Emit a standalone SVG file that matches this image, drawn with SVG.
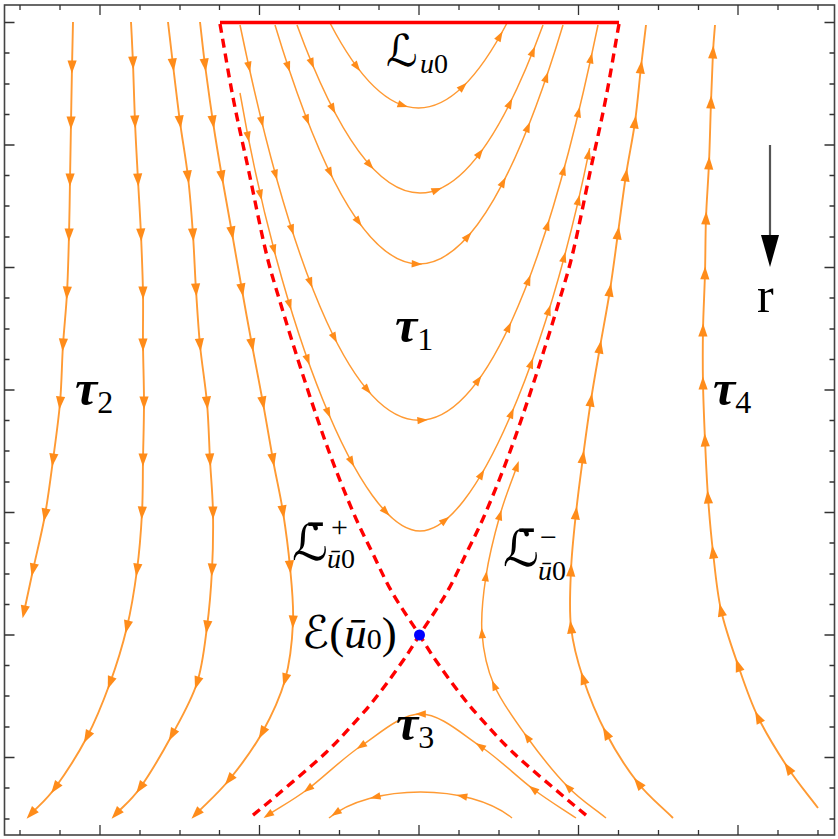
<svg xmlns="http://www.w3.org/2000/svg" width="838" height="839" viewBox="0 0 838 839">
<style>
.fl{fill:none;stroke:#ff9a33;stroke-width:1.9;stroke-linejoin:round}
.fl2{fill:none;stroke:#ff9a33;stroke-width:1.5;stroke-linejoin:round}
.ma{marker-mid:url(#ab);marker-end:url(#ab)}
.mm{marker-mid:url(#ab)}
.ms{marker-mid:url(#as);marker-end:url(#as)}
.ar line{stroke:none;fill:none;marker-end:url(#as)}
.sep{fill:none;stroke:#f00;stroke-width:3.4;stroke-dasharray:9 6}
.tk{fill:none;stroke:#333;stroke-width:1.3}
.lab{font-family:"Liberation Serif","DejaVu Serif",serif;fill:#000}
.cal{font-family:"DejaVu Serif","DejaVu Sans",serif}
.tau{font-style:italic;font-weight:bold}
.sub{font-style:normal;font-weight:normal}
</style>
<defs>
<marker id="ab" viewBox="-8 -6 16 12" refX="0" refY="0" markerWidth="16" markerHeight="12" markerUnits="userSpaceOnUse" orient="auto"><path d="M-6.5,-4.6L6.5,0L-6.5,4.6z" fill="#ff8c1a"/></marker>
<marker id="as" viewBox="-7 -5 14 10" refX="0" refY="0" markerWidth="14" markerHeight="10" markerUnits="userSpaceOnUse" orient="auto"><path d="M-5.3,-3.7L5.3,0L-5.3,3.7z" fill="#ff8c1a"/></marker>
<path id="tl" d="M4.5,22.5h10M4.5,145h10M4.5,267.5h10M4.5,390h10M4.5,512.5h10M4.5,635h10M4.5,757.5h10M4.5,53h5M4.5,84h5M4.5,114.5h5M4.5,175.5h5M4.5,206h5M4.5,237h5M4.5,298h5M4.5,329h5M4.5,359.5h5M4.5,420.5h5M4.5,451h5M4.5,482h5M4.5,543h5M4.5,574h5M4.5,604.5h5M4.5,665.5h5M4.5,696h5M4.5,727h5M4.5,788h5M4.5,819h5"/>
<path id="tt" d="M100,5v10M259.5,5v10M419,5v10M578.5,5v10M738,5v10M20,5v5M60,5v5M140,5v5M180,5v5M219.5,5v5M299.5,5v5M339.5,5v5M379,5v5M459,5v5M499,5v5M539,5v5M618.5,5v5M658.5,5v5M698.5,5v5M778,5v5M818,5v5"/>
<path id="sepL" d="M220,24 C224.5,49.3 228.75,75.67 233.5,100 S243.17,145 248.5,170 S260.33,228.33 265.5,250 S273,278.33 279.5,300 S296.17,354.5 304.5,380 S321.33,430.83 329.5,453 S346.33,496.33 353.5,513 S366,539.67 372.5,553 S384.67,579.33 392.5,593 S412.33,623.83 419.5,635 S428.83,650.33 435.5,660 S452.17,683.5 459.5,693 S470.5,707 479.5,717 S500.17,740.33 513.5,753 S546.83,782.17 559.5,793 S579.5,809.67 589.5,818"/>
</defs>
<rect width="838" height="839" fill="#fff"/>
<g id="frame">
<rect x="4.5" y="5" width="830" height="830" fill="none" stroke="#444" stroke-width="1.6"/>
<g class="tk">
<use href="#tl"/>
<use href="#tl" transform="matrix(-1 0 0 1 839 0)"/>
<use href="#tt"/>
<use href="#tt" transform="matrix(1 0 0 -1 0 840)"/>
</g>
</g>
<g id="connectors">
<g id="streamlines">
<path class="fl ma" d="M73,22 C72.7,37 72.3,50.2 72,67 S71.3,104.2 71,123 S70.3,161.3 70,180 S69.5,216.2 69,235 S68,274.7 67,293 S64.2,326.7 63,345 S61.7,383.8 60,403 S55.5,441.3 53,460 S48.3,496.7 45,515 S36.5,553.8 33,570 S27,598 24,612"/>
<path class="fl ma" d="M131,22 C131.7,35.7 132.3,46.3 133,63 S134.2,102.5 135,122 S137,161.2 138,180 S140.2,216.2 141,235 S142.7,274.7 143,293 S142.8,326.7 143,345 S144,383.8 144,403 S143.3,441.7 143,460 S143,494.7 142,513 S139.5,551 137,570 S131.5,608.2 127,627 S116.7,664.7 110,683 S96.2,719.5 87,737 S64.3,775.2 55,788 S39,805.3 31,814"/>
<path class="fl ma" d="M168,22 C169.7,36.3 171,48.3 173,65 S177.5,103.3 180,122 S185.8,158.2 188,177 S191.7,216.2 193,235 S194.8,271.7 196,290 S198.2,326.2 200,345 S205.3,383.8 207,403 S209,441.7 210,460 S212.7,494.7 213,513 S213,551 212,570 S209.5,608.2 207,627 S202.8,665 197,683 S181.5,717.5 172,735 S149.3,774.8 140,788 S124,805.3 116,814"/>
<path class="fl ma" d="M200,22 C201.7,36.3 202.8,48.3 205,65 S210.2,103.3 213,122 S218.8,158.5 222,177 S228.7,214.2 232,233 S238.7,271.3 242,290 S248.5,326.2 252,345 S259.5,383.8 263,403 S269.7,441.8 273,460 S280.2,494.2 283,512 S288.3,548.7 290,567 S293.8,603.2 293,622 S290.2,661.5 285,680 S271.3,716.3 262,733 S240,766.5 229,780 S207,802.7 196,814"/>
<path class="fl2" d="M330,23 Q418.5,193 507,23"/>
<path class="fl2" d="M297,25 Q420,361 543,25"/>
<path class="fl2" d="M275,25 Q419,503 563,25"/>
<path class="fl2" d="M240,25 C349,552 489,552 598,25"/>
<path class="fl2" d="M240,93 C280,325 360,531 420,531 C475.2,531 547.3,356.6 589.7,148.1"/>
<path class="fl2 ms" d="M606,818 C593.33,807.67 581.17,800.5 568,787 S539.33,754 527,737 S501.5,702.33 494,685 S483.33,651.17 482,633 S483,595.67 486,576 S494.83,533.33 500,515 S511.33,482.33 517,466"/>
<path class="fl mm" d="M673,818 C661.33,806.33 649.17,797.17 638,783 S615.17,750.5 606,733 S588.83,695.67 583,678 S573,645 571,627 S570.17,589 571,570 S574,531.83 576,513 S580.5,475.83 583,457 S588.17,418.33 591,400 S596.83,365.33 600,347 S607,309 610,290 S615.33,252.17 618,233 S623.17,193.5 626,175 S632.5,140 635,122 S639.17,83.17 641,67 S644.33,39 646,25"/>
<path class="fl mm" d="M818,808 C808,794.67 798,783.17 788,768 S766.33,734.17 758,717 S744.17,682.83 738,665 S725.17,628.83 721,610 S715.17,570.83 713,552 S709.33,515.67 708,497 S705.83,459 705,440 S703.33,401.33 703,383 S702.67,348.33 703,330 S704.5,291.67 705,273 S705.33,236.33 706,218 S708.17,182.33 709,163 S710.33,120.5 711,102 S712.33,64.83 713,52 S714.33,34 715,25"/>
<path class="fl2 ms" d="M576,818 C561.67,808.33 549,801 533,789 S498.75,758.5 480,746 S440.33,714 420.5,714 S379.75,733.5 361,746 S323.5,777.5 308,789 S281.33,806.33 268,815"/>
<path class="fl2" d="M512,818 C470,783.3 371,783.3 329,818"/>
</g>
<g id="arrowheads" class="ar">
<line x1="356" y1="65.67" x2="357" y2="67"/>
<line x1="402" y1="105.06" x2="403" y2="105.4"/>
<line x1="462" y1="87.47" x2="463" y2="86.5"/>
<line x1="499" y1="37.67" x2="500" y2="35.9"/>
<line x1="311" y1="61.1" x2="312" y2="63.5"/>
<line x1="332" y1="107.07" x2="333" y2="109"/>
<line x1="369" y1="164.09" x2="370" y2="165.2"/>
<line x1="436" y1="190.18" x2="437" y2="189.8"/>
<line x1="479" y1="154.33" x2="480" y2="153"/>
<line x1="509" y1="105.1" x2="510" y2="103.1"/>
<line x1="532" y1="53.8" x2="533" y2="51.3"/>
<line x1="287.3" y1="63.99" x2="288.3" y2="67"/>
<line x1="306.2" y1="117.42" x2="307.2" y2="120"/>
<line x1="329.2" y1="170.95" x2="330.2" y2="173"/>
<line x1="357.6" y1="220.61" x2="358.6" y2="222"/>
<line x1="416" y1="263.95" x2="417" y2="264"/>
<line x1="467" y1="237.43" x2="468" y2="236.3"/>
<line x1="502.3" y1="183.94" x2="503.3" y2="182"/>
<line x1="527" y1="129.51" x2="528" y2="127"/>
<line x1="545.4" y1="79.94" x2="546.4" y2="77"/>
<line x1="248" y1="62.5" x2="249" y2="67"/>
<line x1="260.85" y1="117.94" x2="261.85" y2="122"/>
<line x1="274.68" y1="171.39" x2="275.68" y2="175"/>
<line x1="291.03" y1="226.88" x2="292.03" y2="230"/>
<line x1="309.54" y1="280.39" x2="310.54" y2="283"/>
<line x1="333.54" y1="336.02" x2="334.54" y2="338"/>
<line x1="366.5" y1="388.82" x2="367.5" y2="390"/>
<line x1="421.7" y1="420.29" x2="422.7" y2="420.2"/>
<line x1="477.35" y1="381.37" x2="478.35" y2="380"/>
<line x1="507.82" y1="329.12" x2="508.82" y2="327"/>
<line x1="527.6" y1="282.64" x2="528.6" y2="280"/>
<line x1="546.57" y1="228.17" x2="547.57" y2="225"/>
<line x1="562.7" y1="173.66" x2="563.7" y2="170"/>
<line x1="577.58" y1="116.14" x2="578.58" y2="112"/>
<line x1="589.98" y1="62.57" x2="590.98" y2="58"/>
<line x1="247.1" y1="131.92" x2="248.1" y2="137"/>
<line x1="259.5" y1="190.65" x2="260.5" y2="195"/>
<line x1="273.05" y1="246.22" x2="274.05" y2="250"/>
<line x1="288.7" y1="301.72" x2="289.7" y2="305"/>
<line x1="306.75" y1="357.18" x2="307.75" y2="360"/>
<line x1="327.3" y1="410.65" x2="328.3" y2="413"/>
<line x1="350.7" y1="460.16" x2="351.7" y2="462"/>
<line x1="385" y1="510.95" x2="386" y2="512"/>
<line x1="444.2" y1="520.81" x2="445.2" y2="520"/>
<line x1="480.7" y1="475.7" x2="481.7" y2="474"/>
<line x1="510.7" y1="415.35" x2="511.7" y2="413"/>
<line x1="530.3" y1="365.79" x2="531.3" y2="363"/>
<line x1="547.8" y1="313.24" x2="548.8" y2="310"/>
<line x1="563.1" y1="260.72" x2="564.1" y2="257"/>
<line x1="577.4" y1="204.29" x2="578.4" y2="200"/>
<line x1="587.5" y1="158.85" x2="588.5" y2="154"/>
<line x1="462.9" y1="796.31" x2="461.9" y2="796.1"/>
<line x1="376.2" y1="796.77" x2="375.2" y2="797"/>
<line x1="336.7" y1="812.44" x2="335.7" y2="813.1"/>
</g>
<g id="separatrices">
<line x1="220" y1="22.5" x2="619" y2="22.5" stroke="#f00" stroke-width="3.5"/>
<use href="#sepL" class="sep"/>
<use href="#sepL" class="sep" transform="matrix(-1 0 0 1 839 0)"/>
</g>
<g id="r-arrow">
<line x1="770" y1="145" x2="770" y2="240" stroke="#555" stroke-width="2.2"/>
<path d="M761,235L779,235L770,267z" fill="#000"/>
</g>
</g>
<g id="saddle"><circle cx="419.5" cy="635" r="5.5" fill="#0000ff"/></g>
<g id="label-Lu0" class="lab"><text class="cal" x="386" y="66" font-size="44">ℒ</text><text x="420" y="73" font-size="28"><tspan font-style="italic">u</tspan>0</text></g>
<g id="label-tau1" class="lab"><text class="tau" x="395" y="342" font-size="50">τ<tspan class="sub" font-size="32" dy="8">1</tspan></text></g>
<g id="label-tau2" class="lab"><text class="tau" x="75" y="405" font-size="50">τ<tspan class="sub" font-size="32" dy="8">2</tspan></text></g>
<g id="label-tau3" class="lab"><text class="tau" x="396" y="740" font-size="50">τ<tspan class="sub" font-size="32" dy="8">3</tspan></text></g>
<g id="label-tau4" class="lab"><text class="tau" x="713" y="405" font-size="50">τ<tspan class="sub" font-size="32" dy="8">4</tspan></text></g>
<g id="label-r" class="lab"><text x="757" y="312" font-size="50">r</text></g>
<g id="label-Lplus" class="lab"><text class="cal" x="292" y="560" font-size="50">ℒ̄</text><text x="331" y="537" font-size="30">+</text><text x="327" y="568" font-size="28"><tspan font-style="italic">ū</tspan>0</text></g>
<g id="label-Lminus" class="lab"><text class="cal" x="503" y="566" font-size="50">ℒ̄</text><text x="540" y="547" font-size="30">−</text><text x="538" y="580" font-size="28"><tspan font-style="italic">ū</tspan>0</text></g>
<g id="label-E" class="lab"><text x="302" y="648" font-size="45"><tspan class="cal">ℰ</tspan>(<tspan font-style="italic">ū</tspan><tspan font-size="30" dy="1">0</tspan><tspan dy="-1">)</tspan></text></g>
</svg>
